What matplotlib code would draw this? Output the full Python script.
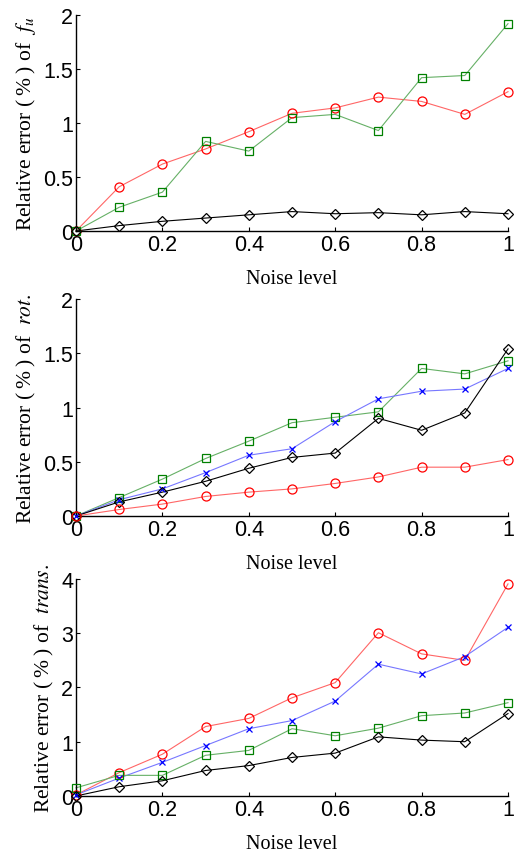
import numpy as np
import matplotlib
matplotlib.use("Agg")
import matplotlib.pyplot as plt

# --- DATA ---
noise = [0, 0.1, 0.2, 0.3, 0.4, 0.5, 0.6, 0.7, 0.8, 0.9, 1.0]

fu_red = [0, 0.41, 0.62, 0.76, 0.92, 1.09, 1.14, 1.24, 1.20, 1.08, 1.29]
fu_green = [0, 0.22, 0.36, 0.83, 0.74, 1.05, 1.08, 0.93, 1.42, 1.44, 1.92]
fu_black = [0, 0.05, 0.09, 0.12, 0.15, 0.18, 0.16, 0.17, 0.15, 0.18, 0.16]

rot_green = [0, 0.17, 0.34, 0.53, 0.69, 0.86, 0.91, 0.96, 1.36, 1.31, 1.43]
rot_blue = [0, 0.15, 0.25, 0.40, 0.56, 0.62, 0.87, 1.08, 1.15, 1.17, 1.36]
rot_black = [0, 0.13, 0.22, 0.32, 0.44, 0.54, 0.58, 0.90, 0.79, 0.95, 1.54]
rot_red = [0, 0.06, 0.11, 0.18, 0.22, 0.25, 0.30, 0.36, 0.45, 0.45, 0.52]

trans_red = [0.02, 0.43, 0.77, 1.28, 1.43, 1.81, 2.09, 3.01, 2.62, 2.50, 3.91]
trans_blue = [0.02, 0.33, 0.62, 0.93, 1.24, 1.39, 1.75, 2.43, 2.25, 2.57, 3.11]
trans_green = [0.15, 0.38, 0.38, 0.75, 0.84, 1.24, 1.11, 1.25, 1.48, 1.53, 1.72]
trans_black = [0.0, 0.17, 0.28, 0.47, 0.56, 0.71, 0.79, 1.09, 1.03, 1.00, 1.52]

plt.rcParams['mathtext.fontset'] = 'stix'

styles = {
    'red': dict(color='#ff0000', marker='o', ms=6.5, lc='#ff6666'),
    'green': dict(color='#008000', marker='s', ms=5.5, lc='#66b066'),
    'blue': dict(color='#0000ff', marker='x', ms=5, lc='#7777ff'),
    'black': dict(color='#000000', marker='D', ms=5, lc='#000000'),
}

ylab = 'Relative error (\u2009%\u2009) of  '
panels = [
    ([('red', fu_red), ('green', fu_green), ('black', fu_black)],
     ylab + r'$f_u$', (0, 2), [0, 0.5, 1, 1.5, 2], ['0', '0.5', '1', '1.5', '2']),
    ([('green', rot_green), ('blue', rot_blue), ('black', rot_black), ('red', rot_red)],
     ylab + r'$rot.$', (0, 2), [0, 0.5, 1, 1.5, 2], ['0', '0.5', '1', '1.5', '2']),
    ([('red', trans_red), ('blue', trans_blue), ('green', trans_green), ('black', trans_black)],
     ylab + r'$trans.$', (0, 4), [0, 1, 2, 3, 4], ['0', '1', '2', '3', '4']),
]

fig = plt.figure(figsize=(5.15, 8.53), dpi=100)
boxes = [(0.1476, 0.728, 0.8388, 0.2532),
         (0.1476, 0.3939, 0.8388, 0.2544),
         (0.1476, 0.0657, 0.8388, 0.2543)]

for box, (series, ylabel, ylim, yticks, yticklabels) in zip(boxes, panels):
    ax = fig.add_axes(box)
    for name, vals in series:
        st = styles[name]
        ax.plot(noise, vals, color=st['lc'], lw=0.8, clip_on=False, zorder=2)
        ax.plot(noise, vals, ls='none', marker=st['marker'], ms=st['ms'],
                mfc='none', mec=st['color'], mew=0.9, clip_on=False, zorder=3)
    ax.set_xlim(0, 1)
    ax.set_ylim(*ylim)
    ax.set_xticks([0, 0.2, 0.4, 0.6, 0.8, 1])
    ax.set_xticklabels(['0', '0.2', '0.4', '0.6', '0.8', '1'])
    ax.set_yticks(yticks)
    ax.set_yticklabels(yticklabels)
    ax.spines[['top', 'right']].set_visible(False)
    for s in ['left', 'bottom']:
        ax.spines[s].set_linewidth(1.0)
    ax.tick_params(direction='in', length=3, width=0.8, labelsize=15.5, pad=2)
    for lab in ax.get_xticklabels() + ax.get_yticklabels():
        lab.set_family('Liberation Sans')
    ax.set_xlabel('Noise level', family='Liberation Serif', fontsize=14.5, labelpad=10)
    ax.set_ylabel(ylabel, family='Liberation Serif', fontsize=15.5, labelpad=4)

fig.savefig('out.png', dpi=100)
